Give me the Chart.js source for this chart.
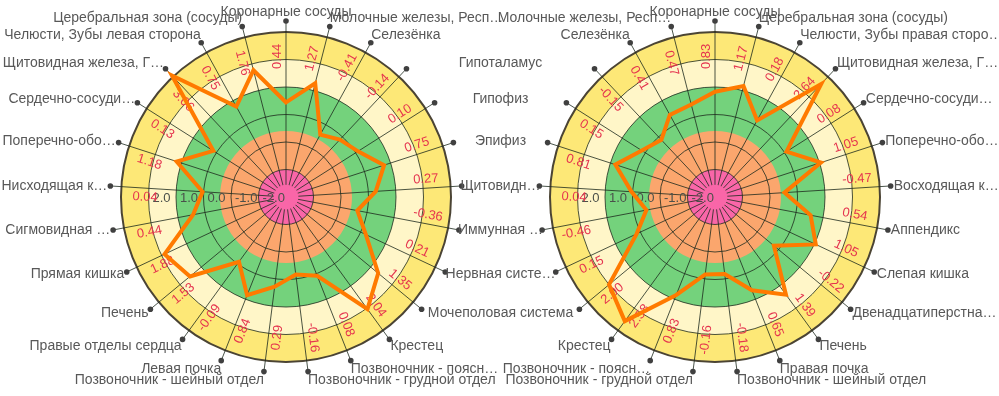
<!DOCTYPE html>
<html>
<head>
<meta charset="utf-8">
<script src="https://cdn.jsdelivr.net/npm/chart.js@4.4.1/dist/chart.umd.min.js"></script>
<style>
  body { margin: 0; background: #fff; }
  .wrap { position: relative; width: 999px; height: 396px; }
  .wrap canvas { position: absolute; left: 0; top: 0; }
</style>
</head>
<body>
<div class="wrap">
  <canvas id="leftChart"></canvas>
  <canvas id="rightChart"></canvas>
</div>
<script>
// левая сторона
var leftLabels = [
    'Коронарные сосуды', 'Молочные железы, Респ…', 'Селезёнка', 'Гипоталамус', 'Гипофиз',
    'Эпифиз', 'Щитовидн…', 'Иммунная …', 'Нервная систе…', 'Мочеполовая система',
    'Крестец', 'Позвоночник - поясн…', 'Позвоночник - грудной отдел', 'Позвоночник - шейный отдел', 'Левая почка',
    'Правые отделы сердца', 'Печень', 'Прямая кишка', 'Сигмовидная …', 'Нисходящая к…',
    'Поперечно-обо…', 'Сердечно-сосуди…', 'Щитовидная железа, Г…', 'Челюсти, Зубы левая сторона', 'Церебральная зона (сосуды)'
];
var leftValues = [
    0.44, 1.27, -0.41, -0.14, 0.10,
    0.75, 0.27, -0.36, 0.21, 1.35,
    2.04, 0.08, -0.16, 0.29, 0.84,
    -0.09, 1.53, 1.88, 0.44, 0.04,
    1.18, 0.13, 3.06, 0.75, 1.76
];

// правая сторона
var rightLabels = [
    'Коронарные сосуды', 'Церебральная зона (сосуды)', 'Челюсти, Зубы правая сторо…', 'Щитовидная железа, Г…', 'Сердечно-сосуди…',
    'Поперечно-обо…', 'Восходящая к…', 'Аппендикс', 'Слепая кишка', 'Двенадцатиперстна…',
    'Печень', 'Правая почка', 'Позвоночник - шейный отдел', 'Позвоночник - грудной отдел', 'Позвоночник - поясн…',
    'Крестец', 'Мочеполовая система', 'Нервная систе…', 'Иммунная …', 'Щитовидн…',
    'Эпифиз', 'Гипофиз', 'Гипоталамус', 'Селезёнка', 'Молочные железы, Респ…'
];
var rightValues = [
    0.83, 1.17, 0.18, 2.64, 0.08,
    1.05, -0.47, 0.54, 1.05, -0.22,
    1.39, 0.65, -0.18, -0.16, 0.83,
    2.58, 2.00, 0.15, -0.46, 0.04,
    0.81, 0.15, -0.15, 0.41, 0.47
];

var tickValues = [-2, -1, 0, 1, 2];
var zoneEdges = [-3, -2, -0.6, 1, 2, 3];
var zoneColors = ['#f966a8', '#fba66d', '#74d27c', '#fff6c8', '#fde877'];

var FONT = '13px "Liberation Sans", Arial, sans-serif';
var LABEL_FONT = '14px "Liberation Sans", Arial, sans-serif';
var MID_X = 500.5;

// innerRight: у какой стороны подписи стоят по центру между диаграммами
// drawInner: рисовать ли их (у обеих диаграмм они совпадают)
function decorPlugin(values, innerRight, drawInner) {
    return {
        id: 'decor',
        beforeDraw: function (chart) {
            var s = chart.scales.r, ctx = chart.ctx;
            ctx.save();
            for (var i = zoneColors.length - 1; i >= 0; i--) {
                ctx.beginPath();
                ctx.arc(s.xCenter, s.yCenter, s.getDistanceFromCenterForValue(zoneEdges[i + 1]), 0, Math.PI * 2);
                ctx.fillStyle = zoneColors[i];
                ctx.fill();
            }
            ctx.restore();
        },
        beforeDatasetsDraw: function (chart) {
            var s = chart.scales.r, ctx = chart.ctx;
            ctx.save();
            // розовый центр поверх спиц
            ctx.beginPath();
            ctx.arc(s.xCenter, s.yCenter, s.getDistanceFromCenterForValue(-2.55), 0, Math.PI * 2);
            ctx.fillStyle = zoneColors[0];
            ctx.fill();

            // подписи шкалы
            ctx.font = FONT;
            ctx.fillStyle = '#4a504a';
            ctx.textAlign = 'left';
            ctx.textBaseline = 'middle';
            tickValues.forEach(function (v) {
                var r = s.getDistanceFromCenterForValue(v);
                ctx.fillText(v.toFixed(1), s.xCenter - r + 4, s.yCenter + 1);
            });

            // значения
            ctx.fillStyle = '#e5344f';
            values.forEach(function (v, i) {
                var a = s.getIndexAngle(i);
                var deg = a * 180 / Math.PI;
                var p = s.getPointPosition(i, 128);
                ctx.save();
                ctx.translate(p.x, p.y);
                if (deg < 180) {
                    ctx.rotate(a - Math.PI / 2);
                    ctx.textAlign = 'left';
                    ctx.fillText(v.toFixed(2), 0, -9);
                } else {
                    ctx.rotate(a - Math.PI * 1.5);
                    ctx.textAlign = 'right';
                    ctx.fillText(v.toFixed(2), 0, 9);
                }
                ctx.restore();
            });
            ctx.restore();
        },
        afterDraw: function (chart) {
            var s = chart.scales.r, ctx = chart.ctx;
            var labels = chart.data.labels;
            var outer = s.getDistanceFromCenterForValue(s.max);
            ctx.save();
            ctx.font = LABEL_FONT;
            ctx.textBaseline = 'middle';
            labels.forEach(function (lab, i) {
                var a = s.getIndexAngle(i);
                var p = s.getPointPosition(i, outer);
                ctx.beginPath();
                ctx.arc(p.x, p.y, 2.8, 0, Math.PI * 2);
                ctx.fillStyle = '#404040';
                ctx.fill();

                var sn = Math.sin(a), cs = Math.cos(a);
                var gap = Math.max(0, 5 * Math.abs(sn) - 2);
                var x = p.x, y = p.y - 9 * cs * Math.pow(Math.abs(cs), 0.6);
                var inner = innerRight ? sn > 0.65 : sn < -0.65;
                if (inner) {
                    if (!drawInner) return;
                    ctx.textAlign = 'center';
                    x = MID_X;
                } else if (Math.abs(sn) < 0.05) {
                    ctx.textAlign = 'center';
                } else if (sn > 0) {
                    ctx.textAlign = 'left';
                    x += gap;
                } else {
                    ctx.textAlign = 'right';
                    x -= gap;
                }
                ctx.fillStyle = '#585858';
                ctx.fillText(lab, x, y);
            });
            ctx.restore();
        }
    };
}

function initRadar(id, labels, values, padLeft, innerRight, drawInner) {
    var canvas = document.getElementById(id);
    canvas.width = 999;
    canvas.height = 396;
    canvas.style.width = '999px';
    canvas.style.height = '396px';
    var ctx = canvas.getContext('2d');

    return new Chart(ctx, {
        type: 'radar',
        data: {
            labels: labels,
            datasets: [
                {
                    data: values,
                    borderColor: '#ff7a00',
                    borderWidth: 4,
                    borderJoinStyle: 'miter',
                    pointRadius: 0,
                    pointHoverRadius: 0,
                    fill: false,
                    tension: 0
                }
            ]
        },
        options: {
            responsive: false,
            animation: false,
            devicePixelRatio: 1,
            layout: {
                padding: { left: padLeft, right: 999 - padLeft - 352, top: 21, bottom: 23 }
            },
            plugins: {
                legend: { display: false },
                tooltip: { enabled: false }
            },
            scales: {
                r: {
                    min: -3,
                    max: 3.4,
                    startAngle: 0,
                    afterBuildTicks: function (scale) {
                        scale.ticks = [-3, -2, -1, 0, 1, 2, 3, 3.4].map(function (v) { return { value: v }; });
                    },
                    ticks: { display: false },
                    grid: {
                        circular: true,
                        color: function (c) {
                            if (c.tick && c.tick.value > 3.05) return 'rgba(0,0,0,0)';
                            if (c.tick && c.tick.value === 3) return '#4b4434';
                            return 'rgba(30,42,30,0.8)';
                        },
                        lineWidth: function (c) {
                            return c.tick && c.tick.value === 3 ? 2 : 1;
                        }
                    },
                    angleLines: { color: 'rgba(30,42,30,0.8)', lineWidth: 1 },
                    pointLabels: { display: false }
                }
            }
        },
        plugins: [decorPlugin(values, innerRight, drawInner)]
    });
}

initRadar('leftChart', leftLabels, leftValues, 110, true, true);
initRadar('rightChart', rightLabels, rightValues, 539, false, false);
</script>
</body>
</html>
